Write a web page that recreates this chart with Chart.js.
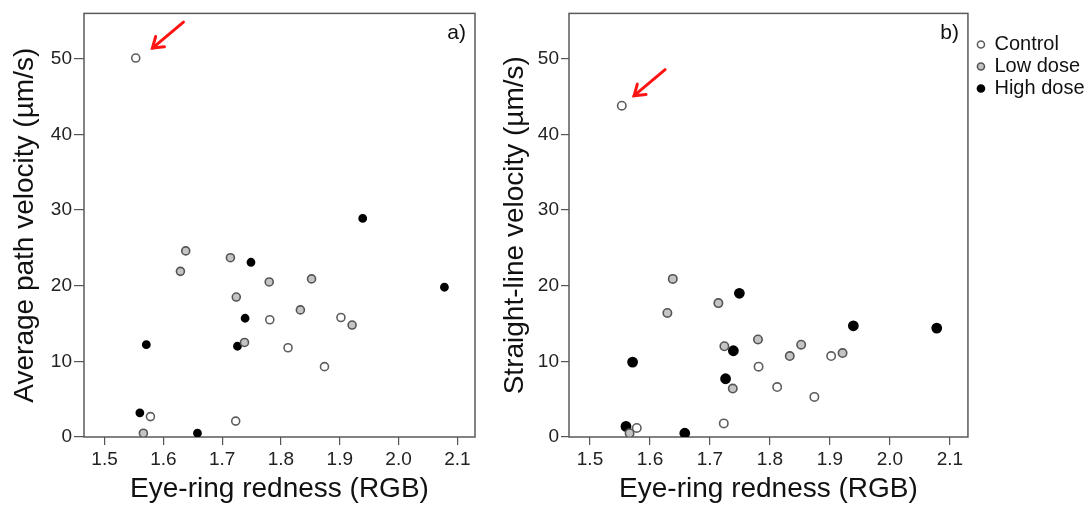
<!DOCTYPE html>
<html>
<head>
<meta charset="utf-8">
<script src="https://cdn.jsdelivr.net/npm/chart.js@4/dist/chart.umd.min.js"></script>
<style>
  html, body { margin: 0; padding: 0; background: #fff; }
  #wrap { position: relative; width: 1092px; height: 506px; }
  #wrap canvas { position: absolute; top: 0; }
  #apv { left: 0; }
  #vsl { left: 490px; }
</style>
</head>
<body>
<div id="wrap">
  <canvas id="apv" width="490" height="506"></canvas>
  <canvas id="vsl" width="602" height="506"></canvas>
</div>
<script>
// treatment groups
const groups = ['Control', 'Low dose', 'High dose'];

// eye-ring redness (RGB) per bird
const redControl = [1.553, 1.578, 1.723, 1.781, 1.812, 1.902, 1.874];
const redLow = [1.638, 1.629, 1.714, 1.780, 1.852, 1.724, 1.833, 1.921, 1.738, 1.566];
const redHigh = [1.749, 2.078, 1.739, 1.571, 1.726, 1.560, 1.658, 1.939];

// average path velocity (µm/s), same bird order
const apvControl = [50.1, 2.7, 2.1, 15.5, 11.8, 15.8, 9.3];
const apvLow = [24.6, 21.9, 23.7, 20.5, 20.9, 18.5, 16.8, 14.8, 12.5, 0.5];
const apvHigh = [23.1, 19.8, 15.7, 12.2, 12.0, 3.2, 0.5, 28.9];

// straight-line velocity (µm/s), same bird order
const vslControl = [43.8, 1.2, 1.8, 9.3, 6.6, 10.7, 5.3];
const vslLow = [20.9, 16.4, 17.7, 12.9, 12.2, 12.0, 10.7, 11.1, 6.4, 0.5];
const vslHigh = [19.0, 14.4, 11.4, 9.9, 7.7, 1.4, 0.5, 14.7];

// axis ranges and tick steps
const xRange = [1.465, 2.13];
const yRange = [0, 56];
const xStep = 0.1;
const yStep = 10;

const fills = ['#ffffff', '#c4c4c4', '#000000'];
const edges = ['#5e5e5e', '#555555', '#000000'];

Chart.defaults.font.family = '"Liberation Sans", Arial, sans-serif';

// box round the plot area
const frame = {
    id: 'frame',
    beforeDatasetsDraw(chart) {
        const { ctx, chartArea: a } = chart;
        ctx.save();
        ctx.strokeStyle = '#5a5a5a';
        ctx.lineWidth = 1.5;
        ctx.strokeRect(a.left, a.top, a.right - a.left, a.bottom - a.top);
        ctx.restore();
    }
};

// red arrow pointing at the first control bird (the outlier)
const outlierArrow = {
    id: 'outlierArrow',
    afterDatasetsDraw(chart, args, o) {
        const pt = chart.getDatasetMeta(0).data[0];
        const ctx = chart.ctx;
        const tipX = pt.x + o.dx, tipY = pt.y + o.dy;
        const tailX = tipX + 31, tailY = tipY - 26;
        const ang = Math.atan2(tipY - tailY, tipX - tailX);
        ctx.save();
        ctx.strokeStyle = '#ff1414';
        ctx.lineWidth = 3;
        ctx.lineCap = 'round';
        ctx.lineJoin = 'miter';
        ctx.beginPath();
        ctx.moveTo(tailX, tailY);
        ctx.lineTo(tipX, tipY);
        ctx.stroke();
        ctx.beginPath();
        ctx.moveTo(tipX + 12 * Math.cos(ang + Math.PI - 0.6), tipY + 12 * Math.sin(ang + Math.PI - 0.6));
        ctx.lineTo(tipX, tipY);
        ctx.lineTo(tipX + 12 * Math.cos(ang + Math.PI + 0.6), tipY + 12 * Math.sin(ang + Math.PI + 0.6));
        ctx.stroke();
        ctx.restore();
    }
};

// "a)" / "b)" in the top right corner
const panelTag = {
    id: 'panelTag',
    afterDraw(chart, args, o) {
        const { ctx, chartArea: a } = chart;
        ctx.save();
        ctx.font = '21px "Liberation Sans", Arial, sans-serif';
        ctx.fillStyle = '#111';
        ctx.textAlign = 'right';
        ctx.textBaseline = 'alphabetic';
        ctx.fillText(o.text, a.right - 9, a.top + 26);
        ctx.restore();
    }
};

// moves the legend box after layout
const legendNudge = {
    id: 'legendNudge',
    afterLayout(chart, args, o) {
        const lg = chart.legend;
        if (!lg || !o.dx) return;
        lg.left += o.dx; lg.right += o.dx;
        lg.top += o.dy; lg.bottom += o.dy;
    }
};

function makeChart(id, ys, cfg) {
    const xs = [redControl, redLow, redHigh];
    const datasets = groups.map((g, i) => ({
        label: g,
        data: xs[i].map((x, k) => ({ x: x, y: ys[i][k] })),
        backgroundColor: fills[i],
        borderColor: edges[i],
        borderWidth: 1.6,
        pointRadius: cfg.radius[i],
        pointHoverRadius: cfg.radius[i]
    }));

    return new Chart(document.getElementById(id), {
        type: 'scatter',
        data: { datasets: datasets },
        options: {
            responsive: false,
            animation: false,
            events: [],
            layout: { padding: { top: 9, right: cfg.padRight, bottom: 0, left: 0 } },
            plugins: {
                legend: cfg.legend ? {
                    display: true,
                    position: 'right',
                    align: 'start',
                    labels: {
                        usePointStyle: true,
                        pointStyle: 'circle',
                        boxWidth: 7,
                        boxHeight: 5,
                        padding: 2,
                        color: '#111',
                        font: { size: 20 }
                    }
                } : { display: false },
                tooltip: { enabled: false },
                outlierArrow: cfg.arrow,
                panelTag: { text: cfg.tag },
                legendNudge: cfg.nudge || {}
            },
            scales: {
                x: {
                    type: 'linear',
                    min: xRange[0],
                    max: xRange[1],
                    afterFit: s => { s.height = 69; },
                    border: { display: false },
                    grid: { drawOnChartArea: false, tickLength: 8, color: '#555', lineWidth: 1.2 },
                    ticks: {
                        stepSize: xStep,
                        includeBounds: false,
                        maxRotation: 0,
                        padding: 3,
                        color: '#222',
                        font: { size: 19 },
                        callback: v => v.toFixed(1)
                    },
                    title: {
                        display: true,
                        text: 'Eye-ring redness (RGB)',
                        color: '#111',
                        font: { size: 28 },
                        padding: { top: 0, bottom: 0 }
                    }
                },
                y: {
                    min: yRange[0],
                    max: yRange[1],
                    afterFit: s => { s.width = cfg.yWidth; },
                    border: { display: false },
                    grid: { drawOnChartArea: false, tickLength: cfg.tick, color: '#555', lineWidth: 1.2 },
                    ticks: {
                        stepSize: yStep,
                        includeBounds: false,
                        padding: 2,
                        color: '#222',
                        font: { size: 19 }
                    },
                    title: {
                        display: true,
                        text: cfg.yTitle,
                        color: '#111',
                        font: { size: 28 },
                        padding: { top: 8.5, bottom: 0 }
                    }
                }
            }
        },
        plugins: [frame, outlierArrow, panelTag, legendNudge]
    });
}

makeChart('apv', [apvControl, apvLow, apvHigh], {
    yTitle: 'Average path velocity (µm/s)',
    tag: 'a)',
    yWidth: 84,
    tick: 10,
    padRight: 15,
    radius: [4, 4, 3.6],
    arrow: { dx: 16.7, dy: -10 },
    legend: false
});

makeChart('vsl', [vslControl, vslLow, vslHigh], {
    yTitle: 'Straight-line velocity (µm/s)',
    tag: 'b)',
    yWidth: 79,
    tick: 8,
    padRight: 5,
    radius: [4.2, 4.2, 4.6],
    arrow: { dx: 12.3, dy: -10 },
    legend: true,
    nudge: { dx: 7.5, dy: 23.5 }
});
</script>
</body>
</html>
